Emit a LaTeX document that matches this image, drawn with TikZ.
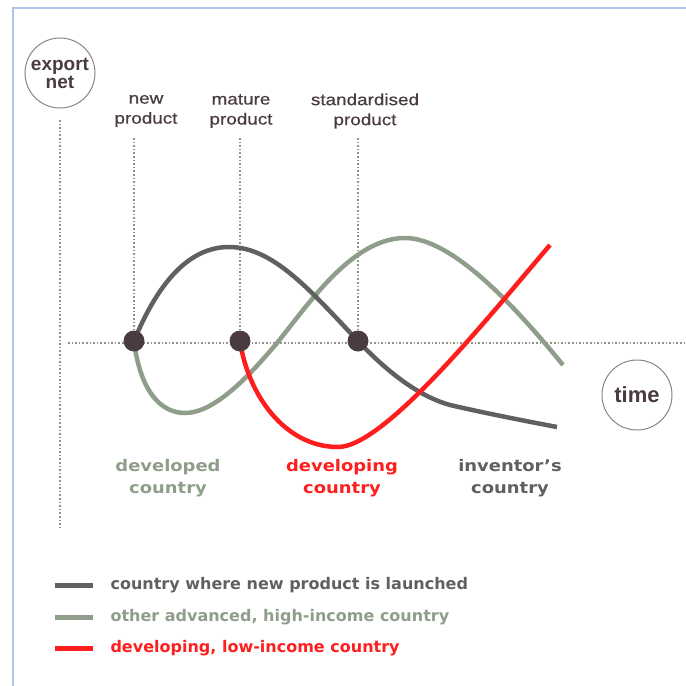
\documentclass[tikz,border=0pt]{standalone}
\usepackage{fontspec}
\setmainfont{Liberation Sans}
\newfontfamily\labfont{DejaVu Sans}
\newfontfamily\widefont{Liberation Sans}[FakeStretch=1.18,FakeBold=0.6]
\newfontfamily\widelabfont{DejaVu Sans}[FakeStretch=1.12]
\usepackage{xcolor}
\usetikzlibrary{positioning}
\definecolor{txtbrown}{HTML}{4A3C3E}
\definecolor{darkcurve}{HTML}{606060}
\definecolor{greencurve}{HTML}{8F9E8A}
\definecolor{redcurve}{HTML}{FF1E1E}
\definecolor{dotgray}{HTML}{8A9688}
\definecolor{framblue}{HTML}{AFC2EA}

\begin{document}
\begin{tikzpicture}[x=1pt,y=-1pt,
    circlab/.style={circle,draw=gray!95,line width=1pt,minimum size=70pt,inner sep=0pt,align=center,
      text=txtbrown,font=\fontsize{19}{18}\selectfont\bfseries},
    toplab/.style={align=center,text=txtbrown,font=\widefont\fontsize{16}{20}\selectfont},
    countrylab/.style={align=center,font=\widelabfont\fontsize{16}{22}\selectfont\bfseries},
    legendlab/.style={anchor=west,font=\labfont\fontsize{16}{16}\selectfont\bfseries},
    stagedot/.style={circle,fill=txtbrown,minimum size=21pt,inner sep=0pt},
    guide/.style={dotgray,dotted,line width=1.6pt},
    curve/.style={line width=4.5pt}]
           \useasboundingbox (0,0) rectangle (686,686);
           \draw[framblue,line width=2pt] (13,686)--(13,8)--(686,8); %枠
           \node[circlab] (exportnet) at (60,73) {export\\net}; %縦軸ラベル
           \node[circlab,font=\fontsize{22}{22}\selectfont\bfseries] (time) at (637,395) {time}; %横軸ラベル
           \coordinate (ytop) at (60,120);
           \coordinate (ybot) at (60,527);
           \coordinate (xleft) at (68,343);
           \coordinate (xright) at (686,343);
           \draw[guide] (ytop)--(ybot); %縦軸
           \draw[guide] (xleft)--(xright); %横軸

           \node[toplab] (lblnew) at (146,111) {new\\product};
           \node[toplab] (lblmature) at (241,111) {mature\\product};
           \node[toplab] (lblstd) at (365,111) {standardised\\product};

           \coordinate (dotnew) at (134,341);
           \coordinate (dotmature) at (240,341);
           \coordinate (dotstd) at (358,341);
           \draw[guide] (dotnew|-145,138)--(dotnew);
           \draw[guide] (dotmature|-145,138)--(dotmature);
           \draw[guide] (dotstd|-145,138)--(dotstd);

           % curves
           \draw[curve,greencurve] (dotnew) .. controls (140,390) and (160,413) .. (185,413)
                .. controls (215,413) and (250,375) .. (277,343)
                .. controls (308,305) and (352,238) .. (405,238)
                .. controls (450,238) and (510,300) .. (563,365);
           \draw[curve,darkcurve] (dotnew) .. controls (155,290) and (185,247) .. (229,247)
                .. controls (273,247) and (310,290) .. (dotstd)
                .. controls (395,380) and (425,398) .. (450,405)
                .. controls (480,412) and (520,420) .. (557,427);
           \draw[curve,redcurve] (dotmature) .. controls (248,395) and (285,447) .. (338,447)
                .. controls (385,447) and (490,315) .. (550,245);

           \node[stagedot] at (dotnew) {};
           \node[stagedot] at (dotmature) {};
           \node[stagedot] at (dotstd) {};

           \node[countrylab,text=greencurve] (lbldeveloped) at (168,478) {developed\\country};
           \node[countrylab,text=redcurve] (lbldeveloping) at (342,478) {developing\\country};
           \node[countrylab,text=darkcurve] (lblinventor) at (510,478) {inventor’s\\country};

           % legend
           \foreach \yy/\col/\txt in {585/darkcurve/{country where new product is launched},
                                      617/greencurve/{other advanced, high-income country},
                                      648/redcurve/{developing, low-income country}}{
             \draw[\col,line width=5pt] (55,\yy)--(93,\yy);
             \node[legendlab,text=\col] at (107,\yy) {\txt};
           }
          \end{tikzpicture}
\end{document}
